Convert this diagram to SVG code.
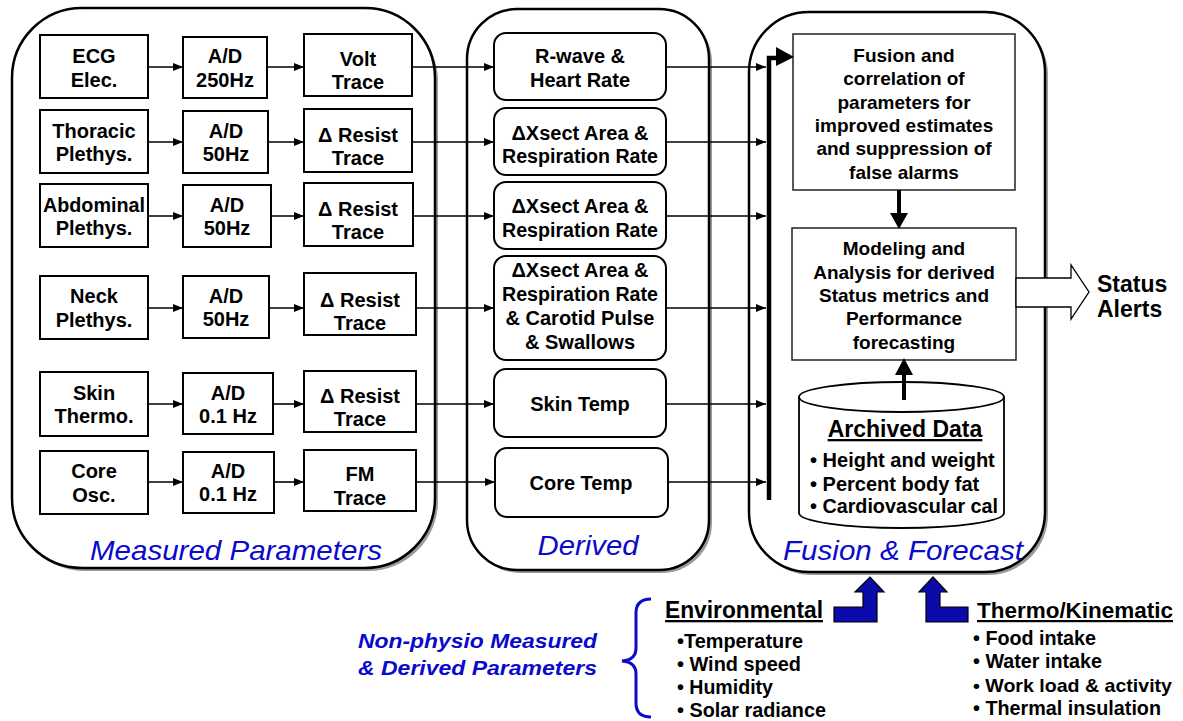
<svg xmlns="http://www.w3.org/2000/svg" width="1183" height="721" viewBox="0 0 1183 721">
<defs>
<marker id="ah" markerWidth="10" markerHeight="8" refX="10" refY="4" orient="auto" markerUnits="userSpaceOnUse"><path d="M0,0 L10,4 L0,8 z" fill="#000"/></marker>
<style>
text{font-family:"Liberation Sans",Arial,Helvetica,sans-serif;font-weight:bold;fill:#000}
.t20{font-size:20px;text-anchor:middle}
.t19{font-size:19px;text-anchor:middle}
.lab{font-weight:normal;font-style:italic;font-size:28px;fill:#0a0acc;text-anchor:middle}
.shadow{fill:#9a9a9a}
.panel{fill:#fff;stroke:#000;stroke-width:2.5}
.box{fill:#fff;stroke:#000;stroke-width:2}
.rbox{fill:#fff;stroke:#000;stroke-width:2}
.fbox{fill:#fff;stroke:#222;stroke-width:1.5}
.conn{stroke:#000;stroke-width:1.6;fill:none;marker-end:url(#ah)}
.nar{font-family:"Liberation Sans Narrow","Arial Narrow","Liberation Sans",Arial,sans-serif}
.blue{fill:#0b0bab;stroke:#000;stroke-width:1.2}
</style>
</defs>
<rect width="1183" height="721" fill="#fff"/>

<!-- panels -->
<g id="panel-measured">
<rect class="shadow" x="15" y="11" width="423" height="560" rx="70"/>
<rect class="panel" x="12" y="8" width="423" height="560" rx="70"/>
<text class="lab" x="236" y="560" textLength="292" lengthAdjust="spacingAndGlyphs">Measured Parameters</text>
</g>
<g id="panel-derived">
<rect class="shadow" x="470" y="12" width="242" height="561" rx="50"/>
<rect class="panel" x="467" y="9" width="242" height="561" rx="50"/>
<text class="lab" x="588" y="555" textLength="101" lengthAdjust="spacingAndGlyphs">Derived</text>
</g>
<g id="panel-fusion">
<rect class="shadow" x="752" y="15" width="296" height="560" rx="60"/>
<rect class="panel" x="749" y="12" width="296" height="560" rx="60"/>
<text class="lab" x="903" y="560" textLength="240" lengthAdjust="spacingAndGlyphs">Fusion &amp; Forecast</text>
</g>

<!-- measured column 1 -->
<g id="ecg-elec"><rect class="box" x="40" y="35" width="108" height="63"/><text class="t20" x="94" y="63">ECG</text><text class="t20" x="94" y="87">Elec.</text></g>
<g id="thoracic"><rect class="box" x="40" y="110" width="108" height="63"/><text class="t20" x="94" y="138">Thoracic</text><text class="t20" x="94" y="161">Plethys.</text></g>
<g id="abdominal"><rect class="box" x="40" y="184" width="108" height="63"/><text class="t20" x="94" y="212" textLength="102" lengthAdjust="spacingAndGlyphs">Abdominal</text><text class="t20" x="94" y="235">Plethys.</text></g>
<g id="neck"><rect class="box" x="40" y="276" width="108" height="63"/><text class="t20" x="94" y="303">Neck</text><text class="t20" x="94" y="327">Plethys.</text></g>
<g id="skin"><rect class="box" x="40" y="372" width="108" height="64"/><text class="t20" x="94" y="400">Skin</text><text class="t20" x="94" y="423">Thermo.</text></g>
<g id="core"><rect class="box" x="40" y="451" width="108" height="63"/><text class="t20" x="94" y="478">Core</text><text class="t20" x="94" y="502">Osc.</text></g>

<!-- measured column 2 -->
<g id="ad-ecg"><rect class="box" x="183" y="37" width="84" height="61"/><text class="t20" x="225" y="63">A/D</text><text class="t20" x="225" y="87">250Hz</text></g>
<g id="ad-thor"><rect class="box" x="183" y="111" width="85" height="62"/><text class="t20" x="226" y="138">A/D</text><text class="t20" x="226" y="161">50Hz</text></g>
<g id="ad-abd"><rect class="box" x="183" y="185" width="88" height="62"/><text class="t20" x="227" y="212">A/D</text><text class="t20" x="227" y="235">50Hz</text></g>
<g id="ad-neck"><rect class="box" x="183" y="276" width="86" height="62"/><text class="t20" x="226" y="303">A/D</text><text class="t20" x="226" y="326">50Hz</text></g>
<g id="ad-skin"><rect class="box" x="183" y="373" width="90" height="61"/><text class="t20" x="228" y="400">A/D</text><text class="t20" x="228" y="423">0.1 Hz</text></g>
<g id="ad-core"><rect class="box" x="183" y="452" width="91" height="61"/><text class="t20" x="228" y="478">A/D</text><text class="t20" x="228" y="501">0.1 Hz</text></g>

<!-- measured column 3 -->
<g id="volt-trace"><rect class="box" x="304" y="34" width="108" height="62"/><text class="t20" x="358" y="66">Volt</text><text class="t20" x="358" y="89">Trace</text></g>
<g id="resist-thor"><rect class="box" x="304" y="109" width="108" height="63"/><text class="t20" x="358" y="142">Δ Resist</text><text class="t20" x="358" y="165">Trace</text></g>
<g id="resist-abd"><rect class="box" x="304" y="183" width="109" height="63"/><text class="t20" x="358" y="216">Δ Resist</text><text class="t20" x="358" y="239">Trace</text></g>
<g id="resist-neck"><rect class="box" x="304" y="273" width="112" height="62"/><text class="t20" x="360" y="307">Δ Resist</text><text class="t20" x="360" y="330">Trace</text></g>
<g id="resist-skin"><rect class="box" x="304" y="371" width="112" height="61"/><text class="t20" x="360" y="403">Δ Resist</text><text class="t20" x="360" y="426">Trace</text></g>
<g id="fm-trace"><rect class="box" x="304" y="450" width="112" height="61"/><text class="t20" x="360" y="481">FM</text><text class="t20" x="360" y="505">Trace</text></g>

<!-- derived -->
<g id="rwave"><rect class="rbox" x="494" y="33" width="172" height="67" rx="12"/><text class="t20" x="580" y="63">R-wave &amp;</text><text class="t20" x="580" y="87">Heart Rate</text></g>
<g id="xsect1"><rect class="rbox" x="494" y="108" width="172" height="67" rx="12"/><text class="t20" x="580" y="140">ΔXsect Area &amp;</text><text class="t20" x="580" y="163" textLength="156" lengthAdjust="spacingAndGlyphs">Respiration Rate</text></g>
<g id="xsect2"><rect class="rbox" x="494" y="182" width="172" height="67" rx="12"/><text class="t20" x="580" y="213">ΔXsect Area &amp;</text><text class="t20" x="580" y="237" textLength="156" lengthAdjust="spacingAndGlyphs">Respiration Rate</text></g>
<g id="xsect3"><rect class="rbox" x="494" y="256" width="172" height="104" rx="12"/><text class="t20" x="580" y="277">ΔXsect Area &amp;</text><text class="t20" x="580" y="301" textLength="156" lengthAdjust="spacingAndGlyphs">Respiration Rate</text><text class="t20" x="580" y="325">&amp; Carotid Pulse</text><text class="t20" x="580" y="349">&amp; Swallows</text></g>
<g id="skin-temp"><rect class="rbox" x="494" y="369" width="172" height="68" rx="12"/><text class="t20" x="580" y="411">Skin Temp</text></g>
<g id="core-temp"><rect class="rbox" x="495" y="448" width="173" height="69" rx="12"/><text class="t20" x="581" y="490">Core Temp</text></g>

<!-- fusion -->
<g id="fusion-box"><rect class="fbox" x="793" y="34" width="222" height="156"/>
<text class="t19" x="904" y="61.5">Fusion and</text><text class="t19" x="904" y="85">correlation of</text><text class="t19" x="904" y="108.5">parameters for</text><text class="t19" x="904" y="132">improved estimates</text><text class="t19" x="904" y="155">and suppression of</text><text class="t19" x="904" y="178.5">false alarms</text></g>
<g id="modeling-box"><rect class="fbox" x="792" y="228" width="224" height="132"/>
<text class="t19" x="904" y="255">Modeling and</text><text class="t19" x="904" y="278.5">Analysis for derived</text><text class="t19" x="904" y="302">Status metrics and</text><text class="t19" x="904" y="325">Performance</text><text class="t19" x="904" y="348.5">forecasting</text></g>
<g id="archived-data">
<path d="M799,397 V513 A102.5,15 0 0 0 1004,513 V397" fill="#fff" stroke="#000" stroke-width="1.8"/>
<ellipse cx="901.5" cy="397" rx="102.5" ry="15" fill="#fff" stroke="#000" stroke-width="1.8"/>
<text x="905" y="437" font-size="23" text-anchor="middle" text-decoration="underline">Archived Data</text>
<text x="810" y="467" font-size="20">• Height and weight</text>
<text x="810" y="491" font-size="20">• Percent body fat</text>
<text x="810" y="513" font-size="20" textLength="188" lengthAdjust="spacingAndGlyphs">• Cardiovascular cal</text>
</g>
<g id="status-alerts">
<polygon points="1016,278 1071,278 1071,265 1089,292 1071,319 1071,307 1016,307" fill="#fff" stroke="#000" stroke-width="1.3"/>
<text x="1097" y="292" font-size="23">Status</text>
<text x="1097" y="317" font-size="23">Alerts</text>
</g>

<!-- connectors -->
<g id="connectors">
<line class="conn" x1="148" y1="67" x2="183" y2="67"/>
<line class="conn" x1="267" y1="67" x2="304" y2="67"/>
<line class="conn" x1="412" y1="67" x2="494" y2="67"/>
<line class="conn" x1="666" y1="67" x2="766" y2="67"/>
<line class="conn" x1="148" y1="142" x2="183" y2="142"/>
<line class="conn" x1="268" y1="142" x2="304" y2="142"/>
<line class="conn" x1="412" y1="142" x2="494" y2="142"/>
<line class="conn" x1="666" y1="142" x2="766" y2="142"/>
<line class="conn" x1="148" y1="216" x2="183" y2="216"/>
<line class="conn" x1="271" y1="216" x2="304" y2="216"/>
<line class="conn" x1="413" y1="216" x2="494" y2="216"/>
<line class="conn" x1="666" y1="216" x2="766" y2="216"/>
<line class="conn" x1="148" y1="308" x2="183" y2="308"/>
<line class="conn" x1="269" y1="308" x2="304" y2="308"/>
<line class="conn" x1="416" y1="308" x2="494" y2="308"/>
<line class="conn" x1="666" y1="308" x2="766" y2="308"/>
<line class="conn" x1="148" y1="404" x2="183" y2="404"/>
<line class="conn" x1="273" y1="404" x2="304" y2="404"/>
<line class="conn" x1="416" y1="404" x2="494" y2="404"/>
<line class="conn" x1="666" y1="404" x2="766" y2="404"/>
<line class="conn" x1="148" y1="482" x2="183" y2="482"/>
<line class="conn" x1="274" y1="482" x2="304" y2="482"/>
<line class="conn" x1="416" y1="482" x2="495" y2="482"/>
<line class="conn" x1="668" y1="482" x2="766" y2="482"/>
<!-- bus -->
<path d="M769,500 V58 H779" fill="none" stroke="#000" stroke-width="4.5"/>
<polygon points="776,47 794,57 776,66" fill="#000"/>
<!-- fusion to modeling -->
<line x1="899" y1="190" x2="899" y2="214" stroke="#000" stroke-width="4"/>
<polygon points="890,213 908,213 899,229" fill="#000"/>
<!-- archive to modeling -->
<line x1="904" y1="400" x2="904" y2="374" stroke="#000" stroke-width="4"/>
<polygon points="895,375 913,375 904,358" fill="#000"/>
<!-- blue bent arrows -->
<polygon class="blue" points="834,607 863,607 863,592 855,592 870,577 884,592 877,592 877,622 834,622"/>
<polygon class="blue" points="919,592 933,577 947,592 940,592 940,607 968,607 968,622 926,622 926,592"/>
<!-- brace -->
<path d="M651,599 Q636,599 636,613 L636,648 Q636,660 622,661 Q636,662 636,674 L636,703 Q636,717 651,717" fill="none" stroke="#0b0bcc" stroke-width="3"/>
</g>

<!-- bottom texts -->
<g id="non-physio">
<text x="358" y="648" font-size="21" font-style="italic" style="fill:#0a0acc" textLength="239" lengthAdjust="spacingAndGlyphs">Non-physio Measured</text>
<text x="358" y="675" font-size="21" font-style="italic" style="fill:#0a0acc" textLength="239" lengthAdjust="spacingAndGlyphs">&amp; Derived Parameters</text>
</g>
<g id="environmental">
<text class="nar" x="665" y="618" font-size="23" text-decoration="underline" textLength="158" lengthAdjust="spacingAndGlyphs">Environmental</text>
<text class="nar" x="677" y="648" font-size="19.5" textLength="126" lengthAdjust="spacingAndGlyphs">•Temperature</text>
<text class="nar" x="677" y="671" font-size="19.5" textLength="124" lengthAdjust="spacingAndGlyphs">• Wind speed</text>
<text class="nar" x="677" y="694" font-size="19.5" textLength="96" lengthAdjust="spacingAndGlyphs">• Humidity</text>
<text class="nar" x="677" y="717" font-size="19.5" textLength="149" lengthAdjust="spacingAndGlyphs">• Solar radiance</text>
</g>
<g id="thermo-kinematic">
<text class="nar" x="977" y="618" font-size="22" text-decoration="underline" textLength="196" lengthAdjust="spacingAndGlyphs">Thermo/Kinematic</text>
<text class="nar" x="973" y="645" font-size="19.5" textLength="123" lengthAdjust="spacingAndGlyphs">• Food intake</text>
<text class="nar" x="973" y="668" font-size="19.5" textLength="129" lengthAdjust="spacingAndGlyphs">• Water intake</text>
<text class="nar" x="973" y="692" font-size="19" textLength="199" lengthAdjust="spacingAndGlyphs">• Work load &amp; activity</text>
<text class="nar" x="973" y="715" font-size="19.5" textLength="188" lengthAdjust="spacingAndGlyphs">• Thermal insulation</text>
</g>
</svg>
